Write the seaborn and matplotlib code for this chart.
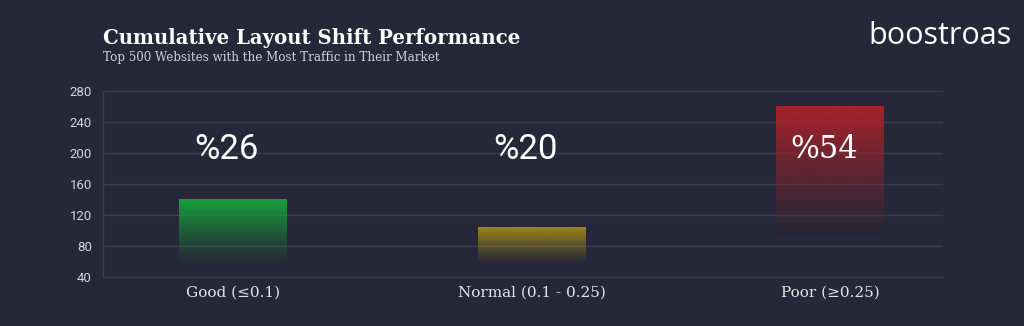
import numpy as np
import pandas as pd
import matplotlib
matplotlib.use("Agg")
import matplotlib.pyplot as plt
import seaborn as sns
from matplotlib.colors import to_rgb

categories = ["Good (≤0.1)", "Normal (0.1 - 0.25)", "Poor (≥0.25)"]
values = [140, 104, 260]
percent_labels = ["%26", "%20", "%54"]
bar_colors = ["#17a23b", "#9a861a", "#a8232a"]
y_ticks = [40, 80, 120, 160, 200, 240, 280]

BG = "#262738"
GRID = "#3b3d50"

sns.set_theme(style="dark")
plt.rcParams["font.family"] = ["Roboto", "DejaVu Sans"]

fig = plt.figure(figsize=(10.24, 3.26), dpi=100, facecolor=BG)
ax = fig.add_axes([103 / 1024, 1 - 277 / 326, (943 - 103) / 1024, (277 - 91) / 326])
ax.set_facecolor(BG)

df = pd.DataFrame({"category": categories, "value": values})
sns.barplot(data=df, x="category", y="value", ax=ax, width=0.36,
            palette=bar_colors, hue="category", legend=False, saturation=1)

ax.set_xlim(-0.435, 2.378)
ax.set_ylim(40, 280)
ax.set_yticks(y_ticks)
ax.grid(axis="y", color=GRID, linewidth=1)
ax.grid(axis="x", visible=False)
ax.set_axisbelow(True)
for s in ["top", "right"]:
    ax.spines[s].set_visible(False)
for s in ["left", "bottom"]:
    ax.spines[s].set_color(GRID)
    ax.spines[s].set_linewidth(1)

# gradient bars
ymin = ax.get_ylim()[0]
for patch, col in zip(ax.patches, bar_colors):
    x0, y0 = patch.get_x(), max(patch.get_y(), ymin)
    w, h = patch.get_width(), patch.get_height()
    top = patch.get_y() + h
    patch.set_visible(False)
    floor = max(55, 0.35 * top)
    n = 200
    ys = np.linspace(y0, top, n)
    alpha = np.clip((ys - floor) / (top - floor), 0, 1) ** 1.2
    rgba = np.zeros((n, 1, 4))
    rgba[:, 0, :3] = to_rgb(col)
    rgba[:, 0, 3] = alpha
    ax.imshow(rgba, extent=[x0, x0 + w, y0, top], origin="lower",
              aspect="auto", zorder=2, interpolation="bilinear")

ax.set_xlim(-0.435, 2.378)
ax.set_ylim(40, 280)

for i, lab in enumerate(percent_labels):
    fam = ["DejaVu Serif"] if i == 2 else ["Roboto", "DejaVu Sans"]
    ax.text(i - 0.02, 204, lab, ha="center", va="center", color="white",
            fontsize=22 if i == 2 else 25, fontweight="normal", family=fam, zorder=3)

ax.set_xlabel("")
ax.set_ylabel("")
ax.tick_params(axis="y", colors="#d4d4dc", labelsize=9.5, length=0, pad=8)
ax.tick_params(axis="x", colors="#e4e4ea", length=0, pad=6)
for t in ax.get_xticklabels():
    t.set_fontfamily(["DejaVu Serif"])
    t.set_fontsize(11)
    t.set_color("#e4e4ea")

fig.text(103 / 1024, 1 - 38 / 326, "Cumulative Layout Shift Performance",
         color="white", fontsize=14.2, fontweight="bold", family=["DejaVu Serif"],
         ha="left", va="center")
fig.text(103 / 1024, 1 - 58 / 326, "Top 500 Websites with the Most Traffic in Their Market",
         color="#d0d0d8", fontsize=8.6, family=["DejaVu Serif"], ha="left", va="center")
fig.text(1012 / 1024, 1 - 36 / 326, "boostroas", color="white", fontsize=22,
         family=["Open Sans", "DejaVu Sans"], ha="right", va="center")

fig.savefig("out.png", dpi=100, facecolor=BG)
